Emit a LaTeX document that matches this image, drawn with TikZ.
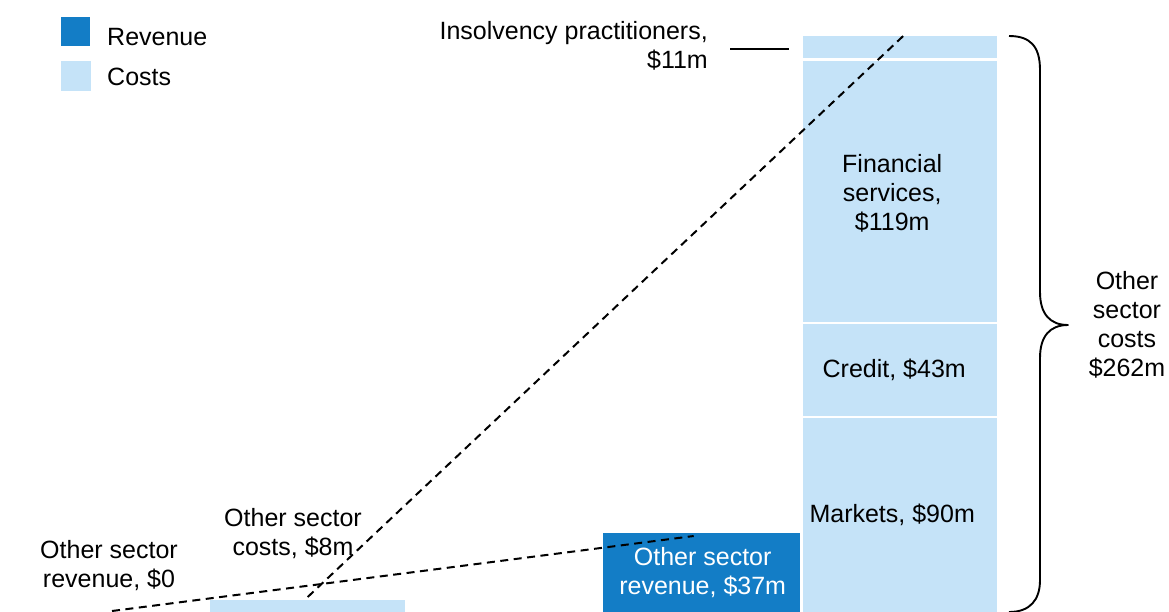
\documentclass[tikz,border=0pt]{standalone}
\usepackage{fontspec}
\setmainfont{Liberation Sans}
\usetikzlibrary{positioning, calc}

\definecolor{revblue}{RGB}{19,125,198}
\definecolor{costblue}{RGB}{197,227,248}

\begin{document}
\begin{tikzpicture}[x=1pt, y=-1pt, font=\fontsize{25}{29}\selectfont,
	costbar/.style={fill=costblue, inner sep=0pt},
	revbar/.style={fill=revblue, inner sep=0pt},
	lbl/.style={inner sep=0pt, align=center},
	leader/.style={dashed, line width=2pt, dash pattern=on 8pt off 5.5pt},
	bracket/.style={line width=1.9pt, line join=round}]
			\useasboundingbox (0,0) rectangle (1169,611);
			
			% legend
			\node[revbar, minimum width=29, minimum height=29, anchor=north west] (revkey) at (61,17) {};
			\node[costbar, minimum width=30, minimum height=30, anchor=north west] (costkey) at (61,61) {};
			\node[lbl, anchor=base west] (revtext) at (107,45) {Revenue};
			\node[lbl, anchor=base west] (costtext) at (107,85) {Costs};
			
			% stacked cost bar
			\node[costbar, minimum width=194, minimum height=22, anchor=north west] (ins) at (803,36) {};
			\node[costbar, minimum width=194, minimum height=261, anchor=north west] (fin) at (803,61) {};
			\node[costbar, minimum width=194, minimum height=92, anchor=north west] (cred) at (803,324) {};
			\node[costbar, minimum width=194, minimum height=194, anchor=north west] (mkt) at (803,418) {};
			
			% revenue and small cost bars
			\node[revbar, minimum width=197, minimum height=79, anchor=north west] (revbar) at (603,533) {};
			\node[costbar, minimum width=195, minimum height=12, anchor=north west] (smallcost) at (210,600) {};
			\coordinate (rev0) at (112,611);
			
			% labels
			\node[lbl] (finl) at ([xshift=-8pt,yshift=-2pt]fin.center) {Financial\\services,\\\$119m};
			\node[lbl] (credl) at ([xshift=-6pt]cred.center) {Credit, \$43m};
			\node[lbl] (mktl) at ([xshift=-8pt]mkt.center) {Markets, \$90m};
			\node[lbl, text=white] (revbl) at ([xshift=1pt]revbar.center) {Other sector\\revenue, \$37m};
			\node[lbl, align=right, anchor=east] (insl) at (708,46) {Insolvency practitioners,\\\$11m};
			\node[lbl] (costl) at (293,534) {Other sector\\costs, \$8m};
			\node[lbl] (revl) at (109,566) {Other sector\\revenue, \$0};
			\node[lbl] (totl) at (1127,325) {Other\\sector\\costs\\\$262m};
			
			% connectors
			\draw[line width=1.9pt] ($(ins.west)+(-73,2)$) -- ($(ins.west)+(-14,2)$);
			\draw[leader] (rev0) -- ([xshift=-8pt,yshift=-3pt]revbar.north);
			\draw[leader] ([yshift=3pt]smallcost.north) -- ([xshift=3pt]ins.north);
			\draw[bracket] (1009,36) .. controls (1030,36) and (1040,46) .. (1040,70) -- (1040,292)
				.. controls (1040,314) and (1050,325) .. (1068,325)
				.. controls (1050,325) and (1040,336) .. (1040,358) -- (1040,580)
				.. controls (1040,600) and (1030,612) .. (1009,612);
		\end{tikzpicture}
\end{document}
